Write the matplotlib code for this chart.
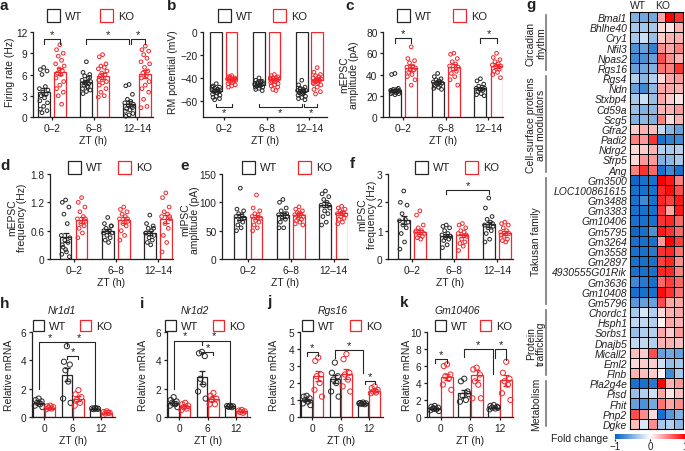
import numpy as np
import matplotlib
matplotlib.use("Agg")
import matplotlib.pyplot as plt
from matplotlib.patches import Rectangle
from matplotlib.colors import LinearSegmentedColormap, Normalize
from matplotlib.cm import ScalarMappable

plt.rcParams['font.family'] = ['Liberation Sans', 'DejaVu Sans']
plt.rcParams['axes.linewidth'] = 0.9
plt.rcParams['xtick.major.width'] = 0.9
plt.rcParams['ytick.major.width'] = 0.9
plt.rcParams['xtick.major.size'] = 2.5
plt.rcParams['ytick.major.size'] = 2.5
plt.rcParams['xtick.labelsize'] = 7.3
plt.rcParams['ytick.labelsize'] = 7.3
plt.rcParams['axes.labelsize'] = 7.5
TXT = '#231f20'
for key in ['text.color', 'axes.labelcolor', 'xtick.color', 'ytick.color', 'axes.edgecolor']:
    plt.rcParams[key] = TXT

WT_C = '#262626'
KO_C = '#f5262b'

zt_long = ['0\u20132', '6\u20138', '12\u201314']
zt_short = ['0', '6', '12']

# ---- a: firing rate (Hz)
a_wt = [[7.0, 6.7, 6.5, 6.0, 4.3, 4.0, 3.8, 3.5, 3.2, 3.0, 2.7, 2.3, 2.0, 1.5, 1.1, 0.9, 0.6],
        [7.8, 6.3, 6.0, 5.8, 5.5, 5.2, 5.0, 4.9, 4.7, 4.5, 4.3, 4.0, 3.8, 3.6, 3.3, 5.6, 4.8, 4.2],
        [4.6, 4.4, 3.2, 2.5, 2.2, 2.0, 1.8, 1.6, 1.5, 1.2, 1.0, 0.8, 0.5, 0.3, 0.1, 1.3]]
a_ko = [[10.2, 9.5, 9.0, 8.6, 8.0, 7.5, 7.2, 6.8, 6.5, 6.2, 6.0, 5.5, 5.0, 4.5, 4.0, 3.5, 3.0, 1.8],
        [8.8, 8.5, 7.5, 7.2, 7.0, 6.8, 6.5, 6.2, 6.0, 5.8, 5.5, 5.2, 5.0, 4.8, 4.5, 4.0, 3.5, 3.0, 2.8],
        [10.0, 9.5, 9.3, 8.8, 8.3, 7.8, 7.5, 7.0, 6.5, 6.2, 5.8, 5.5, 5.0, 4.5, 4.0, 3.5, 2.5, 1.5, 1.3]]
a_mean = [[3.6, 4.9, 1.9], [6.4, 5.8, 6.1]]
a_sem = [[0.5, 0.3, 0.4], [0.5, 0.4, 0.6]]

# ---- b: RM potential (mV)
b_wt = [[-45, -47, -48, -49, -50, -50, -51, -51, -52, -52, -53, -54, -55, -56, -57, -58, -59, -50, -48],
        [-40, -42, -43, -44, -44, -45, -45, -46, -46, -47, -47, -48, -48, -49, -50, -51, -45, -43, -46],
        [-42, -46, -48, -49, -50, -51, -51, -52, -52, -53, -54, -55, -56, -57, -58, -59, -50, -53]]
b_ko = [[-38, -39, -40, -40, -41, -41, -42, -42, -43, -43, -44, -45, -46, -47, -48, -41, -39],
        [-37, -38, -39, -40, -40, -41, -41, -42, -42, -43, -43, -44, -45, -46, -47, -48, -50, -51, -40],
        [-31, -35, -37, -38, -39, -40, -41, -42, -42, -43, -44, -45, -46, -48, -50, -52, -54, -41, -44]]
b_mean = [[-51, -46, -51], [-41, -41, -42]]
b_sem = [[1.0, 0.8, 1.0], [0.7, 0.8, 1.2]]

# ---- c: mEPSC amplitude (pA)
c_wt = [[41, 40, 27, 26, 26, 25, 25, 24, 24, 23, 23, 22, 22, 21, 25, 24],
        [41, 38, 36, 35, 34, 33, 32, 31, 30, 29, 28, 27, 26, 33],
        [36, 34, 31, 29, 28, 27, 27, 26, 25, 24, 22, 21, 20, 26]]
c_ko = [[66, 55, 53, 51, 48, 47, 46, 45, 44, 42, 40, 38, 35, 30],
        [60, 59, 55, 52, 50, 48, 47, 45, 43, 41, 38, 35, 30],
        [60, 56, 54, 52, 50, 49, 48, 47, 45, 43, 42, 40, 37]]
c_mean = [[25, 32.5, 27], [46, 47, 48]]
c_sem = [[1.2, 1.2, 1.2], [2.5, 2.5, 2.2]]

# ---- d: mEPSC frequency (Hz)
d_wt = [[1.25, 1.2, 1.1, 0.95, 0.75, 0.5, 0.45, 0.4, 0.35, 0.25, 0.15, 0.1, 0.05, 0.2, 0.3],
        [0.88, 0.75, 0.7, 0.65, 0.6, 0.55, 0.55, 0.5, 0.45, 0.4, 0.35, 0.6, 0.7],
        [0.93, 0.75, 0.7, 0.65, 0.6, 0.55, 0.5, 0.45, 0.4, 0.35, 0.3, 0.55, 0.65]]
d_ko = [[1.3, 1.2, 1.1, 1.0, 0.9, 0.85, 0.8, 0.75, 0.7, 0.65, 0.55, 0.45, 0.85],
        [1.1, 1.05, 1.0, 0.95, 0.9, 0.85, 0.8, 0.75, 0.7, 0.6, 0.5, 0.4, 0.85],
        [1.4, 1.3, 1.1, 1.0, 0.95, 0.9, 0.85, 0.75, 0.65, 0.5, 0.35, 0.15, 0.9]]
d_mean = [[0.46, 0.60, 0.55], [0.83, 0.82, 0.85]]
d_sem = [[0.1, 0.04, 0.05], [0.06, 0.06, 0.09]]

# ---- e: mIPSC amplitude (pA)
e_wt = [[125, 88, 85, 80, 78, 75, 72, 68, 65, 60, 55, 50, 72],
        [105, 100, 90, 85, 80, 78, 75, 72, 70, 65, 55, 55, 80],
        [120, 115, 110, 105, 100, 95, 90, 85, 80, 75, 65, 60, 95]]
e_ko = [[113, 90, 85, 80, 78, 75, 72, 68, 65, 60, 55, 50],
        [92, 88, 85, 82, 80, 78, 75, 72, 70, 68, 65, 62, 60, 80],
        [93, 90, 88, 85, 82, 80, 78, 75, 72, 70, 65, 62]]
e_mean = [[74, 77, 96], [74, 78, 81]]
e_sem = [[5, 4, 5], [4, 3, 3]]

# ---- f: mIPSC frequency (Hz)
f_wt = [[2.4, 2.0, 1.9, 1.6, 1.4, 1.35, 1.3, 1.2, 1.1, 0.9, 0.6, 0.35],
        [1.2, 1.15, 1.1, 1.0, 0.9, 0.85, 0.8, 0.75, 0.7, 0.65, 0.5, 0.4, 0.8],
        [2.15, 1.8, 1.5, 1.4, 1.3, 1.2, 1.15, 1.1, 1.0, 0.9, 0.7, 0.6, 1.25]]
f_ko = [[1.7, 1.55, 1.2, 1.1, 1.0, 0.95, 0.9, 0.85, 0.8, 0.75, 0.7, 1.0],
        [1.25, 1.2, 1.1, 1.0, 0.95, 0.9, 0.8, 0.7, 0.6, 0.55, 0.45, 0.3, 0.85],
        [1.3, 1.25, 1.2, 1.1, 1.0, 0.95, 0.9, 0.8, 0.7, 0.65, 0.6, 0.85]]
f_mean = [[1.37, 0.82, 1.22], [0.95, 0.83, 0.92]]
f_sem = [[0.15, 0.05, 0.1], [0.08, 0.07, 0.06]]

# ---- h: Nr1d1 relative mRNA
h_wt = [[1.3, 1.2, 1.1, 1.0, 0.9, 0.8, 0.7], [5.0, 3.9, 3.7, 3.3, 2.5, 1.3, 1.0], [0.62, 0.6, 0.58, 0.55, 0.6]]
h_ko = [[0.8, 0.75, 0.7, 0.65, 0.6, 0.55], [1.9, 1.6, 1.4, 1.2, 1.0, 0.8], [0.4, 0.35, 0.3, 0.25, 0.3]]
h_mean = [[1.0, 3.0, 0.6], [0.65, 1.3, 0.3]]
h_sem = [[0.1, 0.45, 0.03], [0.05, 0.15, 0.04]]

# ---- i: Nr1d2
i_wt = [[1.4, 1.2, 1.1, 1.0, 0.9, 0.8, 0.7], [4.6, 4.5, 4.3, 2.7, 2.3, 1.8, 1.3], [0.8, 0.78, 0.75, 0.72, 0.7]]
i_ko = [[1.0, 0.9, 0.8, 0.7, 0.6, 0.5], [1.7, 1.5, 1.3, 1.2, 0.9, 0.9], [0.5, 0.45, 0.4, 0.35, 0.3]]
i_mean = [[1.0, 2.8, 0.75], [0.75, 1.3, 0.4]]
i_sem = [[0.12, 0.45, 0.03], [0.1, 0.15, 0.05]]

# ---- j: Rgs16
j_wt = [[1.25, 1.2, 1.1, 1.0, 0.9, 0.8, 0.7], [3.2, 2.6, 2.4, 2.2, 2.0, 1.5, 1.2], [0.85, 0.82, 0.8, 0.78, 0.75, 0.8]]
j_ko = [[3.5, 3.3, 2.5, 2.4, 2.0, 1.6, 1.2], [3.7, 3.4, 2.6, 2.5, 2.2, 1.8, 1.5], [1.8, 1.7, 1.6, 1.5, 1.45, 1.4]]
j_mean = [[1.0, 2.25, 0.8], [2.4, 2.55, 1.55]]
j_sem = [[0.08, 0.25, 0.03], [0.3, 0.3, 0.08]]

# ---- k: Gm10406
k_wt = [[1.3, 1.2, 1.1, 1.0, 0.9, 0.8, 0.7, 1.0], [4.5, 4.2, 3.0, 2.5, 2.0, 1.8, 2.7], [1.4, 1.3, 1.2, 1.1, 1.0, 0.9, 1.1]]
k_ko = [[6.2, 6.0, 5.0, 4.8, 4.5, 3.8, 3.2], [5.8, 5.6, 5.0, 4.2, 3.8, 2.2, 2.2], [6.5, 5.2, 4.5, 4.2, 3.8, 2.8, 2.0]]
k_mean = [[1.0, 2.8, 1.1], [4.7, 4.9, 4.3]]
k_sem = [[0.1, 0.4, 0.08], [0.4, 0.6, 0.6]]

# ---- g: heatmap (fold change, 3 WT + 3 KO)
genes = ['Bmal1', 'Bhlhe40', 'Cry1', 'Nfil3', 'Npas2', 'Rgs16',
         'Rgs4', 'Ndn', 'Stxbp4', 'Cd59a', 'Scg5', 'Gfra2', 'Padi2', 'Ndrg2', 'Sfrp5', 'Ang',
         'Gm3500', 'LOC100861615', 'Gm3488', 'Gm3383', 'Gm10406', 'Gm5795', 'Gm3264', 'Gm3558',
         'Gm2897', '4930555G01Rik', 'Gm3636', 'Gm10408', 'Gm5796',
         'Chordc1', 'Hsph1', 'Sorbs1', 'Dnajb5', 'Micall2', 'Eml2', 'Flnb',
         'Pla2g4e', 'Pisd', 'Fhit', 'Pnp2', 'Dgke']
fold = [[-0.5, -0.55, -0.55, 0.35, 1.0, 0.8],
        [-0.35, -0.35, -0.35, 0.15, 0.1, 0.3],
        [-0.35, -0.2, -0.4, 0.2, 0.3, 0.3],
        [-0.7, -0.6, -0.8, 0.45, 0.35, 0.5],
        [-0.75, -0.7, -0.6, 0.7, 0.45, 0.3],
        [-0.6, -0.55, -0.5, 0.55, 0.5, 0.8],
        [-0.3, -0.45, -0.3, 0.15, 0.35, 0.4],
        [-0.6, -0.75, -0.45, 0.35, 0.35, 0.3],
        [-0.35, -0.2, -0.4, 0.35, 0.2, 0.1],
        [-0.4, -0.5, -0.45, 0.3, 0.3, 0.4],
        [-0.5, -0.45, -0.5, 0.5, 0.15, 0.3],
        [0.2, 0.3, 0.25, -0.25, -0.45, -0.6],
        [0.5, 0.4, 0.8, -0.9, -0.8, -0.75],
        [0.15, 0.2, 0.3, -0.3, -0.35, -0.3],
        [0.15, 0.4, 0.4, -0.5, -0.45, -0.35],
        [0.5, 0.8, 0.6, -0.9, -0.75, -0.9],
        [-0.95, -0.9, -0.9, 1.0, 0.9, 0.5],
        [-0.9, -0.9, -0.9, 0.85, 0.95, 0.7],
        [-0.9, -0.75, -0.9, 0.85, 0.75, 0.9],
        [-0.9, -0.9, -0.9, 0.8, 0.35, 0.9],
        [-0.9, -0.9, -0.9, 0.8, 0.85, 0.6],
        [-0.95, -0.9, -0.7, 0.9, 0.8, 0.6],
        [-0.9, -0.9, -0.9, 0.4, 1.0, 0.75],
        [-0.9, -0.9, -0.85, 0.8, 0.85, 0.55],
        [-0.9, -0.9, -0.9, 0.75, 0.85, 0.45],
        [-0.9, -0.9, -0.9, 0.85, 0.85, 0.5],
        [-0.75, -0.85, -0.9, 0.6, 0.75, 0.6],
        [-0.9, -0.9, -0.9, 0.95, 0.8, 0.55],
        [-0.65, -0.6, -0.6, 0.7, 0.35, 0.35],
        [-0.35, -0.15, -0.3, 0.15, 0.3, 0.35],
        [-0.25, -0.25, -0.3, 0.05, 0.35, 0.3],
        [-0.4, -0.3, -0.3, 0.35, 0.2, 0.4],
        [-0.25, -0.25, -0.3, 0.3, 0.3, 0.25],
        [0.25, 0.2, 0.7, -0.6, -0.55, -0.6],
        [0.15, 0.2, 0.2, -0.2, -0.4, -0.35],
        [0.3, 0.25, 0.2, 0.05, -0.75, -0.35],
        [-0.9, -0.9, -0.85, 1.0, 0.3, 0.4],
        [-0.4, -0.3, -0.2, 0.35, 0.1, 0.25],
        [-0.6, -0.7, -0.55, 0.55, 0.35, 0.45],
        [0.7, 0.45, 0.15, -0.9, -0.65, -0.5],
        [0.25, -0.15, 0.45, -0.35, -0.3, -0.45]]
groups = [('Circadian\nrhythm', 0, 6), ('Cell-surface proteins\nand modulators', 6, 16),
          ('Takusan family', 16, 29), ('Protein\ntrafficking', 29, 36), ('Metabolism', 36, 41)]

W, H = 685, 452
fig = plt.figure(figsize=(W / 100, H / 100), dpi=100)


def px_ax(l, t, r, b):
    return fig.add_axes([l / W, 1 - b / H, (r - l) / W, (b - t) / H])


def ftext(x, y, s, **kw):
    return fig.text(x / W, 1 - y / H, s, **kw)


def legend(x_wt, x_ko, y, sz=13, fs=8):
    for x, lab, c in [(x_wt, 'WT', WT_C), (x_ko, 'KO', KO_C)]:
        fig.patches.append(Rectangle((x / W, 1 - (y + sz) / H), sz / W, sz / H,
                                     transform=fig.transFigure, facecolor='white',
                                     edgecolor=c, lw=0.9))
        ftext(x + sz + 5, y + sz / 2, lab, fontsize=fs, va='center', ha='left')


JIT = np.array([0, -0.28, 0.28, -0.14, 0.14, -0.36, 0.36, -0.07, 0.21, -0.21, 0.07, -0.32, 0.32])


def bars(ax, wt, ko, means, sems, width, off, ms, lw=0.9):
    for g in range(3):
        for k, (pts, c, sgn) in enumerate([(wt, WT_C, -1), (ko, KO_C, 1)]):
            x = g + sgn * off
            ax.bar(x, means[k][g], width, facecolor='white', edgecolor=c, linewidth=lw, zorder=1)
            p = pts[g]
            ax.scatter(x + np.resize(JIT, len(p)) * width, p, s=ms, facecolors='none',
                       edgecolors=c, linewidths=0.7, zorder=2, clip_on=False)
            ax.errorbar(x, means[k][g], yerr=sems[k][g], color=c, capsize=2,
                        elinewidth=lw, capthick=lw, zorder=3)


def style(ax, xlim, ylim, yticks, ytl, xtl):
    ax.set_xlim(xlim)
    ax.set_ylim(ylim)
    ax.set_yticks(yticks)
    ax.set_yticklabels(ytl)
    ax.set_xticks([0, 1, 2])
    ax.set_xticklabels(xtl)
    ax.spines[['top', 'right']].set_visible(False)
    ax.tick_params(pad=1.5)
    ax.set_xlabel('ZT (h)', labelpad=2)


def bracket(ax, x1, x2, y, l1, l2, sx=None, sy=None, below=False, fs=8):
    ax.plot([x1, x1, x2, x2], [l1, y, y, l2], color=WT_C, lw=0.8, clip_on=False, zorder=4)
    sx = (x1 + x2) / 2 if sx is None else sx
    sy = y if sy is None else sy
    ax.text(sx, sy, '*', ha='center', va='top' if below else 'bottom', fontsize=fs)


# ---------------- row 1
W1, O1 = 0.28, 0.19
ax = px_ax(33, 33, 153, 118)
bars(ax, a_wt, a_ko, a_mean, a_sem, W1, O1, 7)
style(ax, (-0.44, 2.37), (0, 12), [0, 3, 6, 9, 12], ['0', '3', '6', '9', '12'], zt_long)
bracket(ax, -O1, O1, 11, 10.3, 10.3)
bracket(ax, 1 - O1, 2 - O1, 11, 10.3, 10.3)
bracket(ax, 2 - O1 + 0.05, 2 + O1, 11, 10.3, 10.3)
ftext(10, 72, 'Firing rate (Hz)', rotation=90, ha='center', va='center', fontsize=7.5)
legend(47, 100, 10)
ftext(0, 10, 'a', fontsize=11, fontweight='bold')

ax = px_ax(203, 33, 327, 118)
bars(ax, b_wt, b_ko, b_mean, b_sem, 0.27, 0.18, 7)
style(ax, (-0.49, 2.41), (-74, 0), [-60, -40, -20, 0], ['\u221260', '\u221240', '\u221220', '0'], zt_long)
bracket(ax, -0.18, 0.18, -65, -62.5, -62.5, below=True)
bracket(ax, 1 - 0.18, 2 - 0.18, -65, -62.5, -62.5, below=True)
bracket(ax, 2 - 0.18 + 0.05, 2 + 0.18, -65, -62.5, -62.5, below=True)
ftext(173, 72, 'RM potential (mV)', rotation=90, ha='center', va='center', fontsize=7.5)
legend(218, 273, 10)
ftext(167, 10, 'b', fontsize=11, fontweight='bold')

ax = px_ax(383, 33, 503, 118)
bars(ax, c_wt, c_ko, c_mean, c_sem, W1, O1, 7)
style(ax, (-0.47, 2.34), (0, 80), [0, 20, 40, 60, 80], ['0', '20', '40', '60', '80'], zt_long)
bracket(ax, -O1, O1, 74, 70, 70)
bracket(ax, 2 - O1, 2 + O1, 74, 70, 70)
ftext(349, 75, 'mEPSC\namplitude (pA)', rotation=90, ha='center', va='center', fontsize=7.5,
      linespacing=1.0)
legend(397, 453, 10)
ftext(345, 10, 'c', fontsize=11, fontweight='bold')

# ---------------- row 2
ax = px_ax(50, 175, 173, 260)
bars(ax, d_wt, d_ko, d_mean, d_sem, W1, O1, 7)
style(ax, (-0.56, 2.36), (0, 1.8), [0, 0.6, 1.2, 1.8], ['0', '0.6', '1.2', '1.8'], zt_long)
ftext(17, 218, 'mEPSC\nfrequency (Hz)', rotation=90, ha='center', va='center', fontsize=7.5,
      linespacing=1.0)
legend(68, 118, 162)
ftext(0, 170, 'd', fontsize=11, fontweight='bold')

ax = px_ax(222, 175, 348, 260)
bars(ax, e_wt, e_ko, e_mean, e_sem, W1, O1, 7)
style(ax, (-0.62, 2.34), (0, 150), [0, 50, 100, 150], ['0', '50', '100', '150'], zt_long)
ftext(190, 220, 'mIPSC\namplitude (pA)', rotation=90, ha='center', va='center', fontsize=7.5,
      linespacing=1.0)
legend(242, 298, 162)
ftext(180, 170, 'e', fontsize=11, fontweight='bold')

ax = px_ax(388, 175, 513, 260)
bars(ax, f_wt, f_ko, f_mean, f_sem, W1, O1, 7)
style(ax, (-0.56, 2.38), (0, 3), [0, 1, 2, 3], ['0', '1', '2', '3'], zt_long)
bracket(ax, 1 - O1, 2 - O1, 2.45, 2.3, 2.3)
ftext(367, 215, 'mIPSC\nfrequency (Hz)', rotation=90, ha='center', va='center', fontsize=7.5,
      linespacing=1.0)
legend(415, 465, 162)
ftext(350, 168, 'f', fontsize=11, fontweight='bold')

# ---------------- row 3
W3, O3 = 0.37, 0.205
ax = px_ax(32, 333, 115, 418)
bars(ax, h_wt, h_ko, h_mean, h_sem, W3, O3, 14)
style(ax, (-0.44, 2.5), (0, 6), [0, 2, 4, 6], ['0', '2', '4', '6'], zt_short)
ax.plot([-O3, -O3, 2 - O3, 2 - O3], [2.0, 5.27, 5.27, 0.8], color=WT_C, lw=0.8, clip_on=False)
ax.plot([1 - O3, 1 - O3], [5.27, 5.0], color=WT_C, lw=0.8)
ax.text(0.2, 5.27, '*', ha='center', va='bottom', fontsize=8)
ax.text(1.22, 5.27, '*', ha='center', va='bottom', fontsize=8)
bracket(ax, 1 - O3, 1 + O3, 4.33, 4.1, 4.1)
ftext(9, 375, 'Relative mRNA', rotation=90, ha='center', va='center', fontsize=7.5)
ftext(62, 314, 'Nr1d1', ha='center', fontsize=7.5, fontstyle='italic')
legend(33, 80, 321, sz=11)
ftext(0, 308, 'h', fontsize=11, fontweight='bold')

ax = px_ax(167, 333, 250, 418)
bars(ax, i_wt, i_ko, i_mean, i_sem, W3, O3, 14)
style(ax, (-0.44, 2.5), (0, 6), [0, 2, 4, 6], ['0', '2', '4', '6'], zt_short)
ax.plot([-O3, -O3, 2 - O3, 2 - O3], [2.0, 5.4, 5.4, 0.9], color=WT_C, lw=0.8, clip_on=False)
ax.plot([1 - O3, 1 - O3], [5.4, 5.1], color=WT_C, lw=0.8, clip_on=False)
ax.text(0.2, 5.4, '*', ha='center', va='bottom', fontsize=8)
ax.text(1.22, 5.4, '*', ha='center', va='bottom', fontsize=8)
bracket(ax, 1 - O3, 1 + O3, 4.6, 4.4, 4.4)
ftext(143, 375, 'Relative mRNA', rotation=90, ha='center', va='center', fontsize=7.5)
ftext(195, 314, 'Nr1d2', ha='center', fontsize=7.5, fontstyle='italic')
legend(165, 213, 321, sz=11)
ftext(140, 308, 'i', fontsize=11, fontweight='bold')

ax = px_ax(300, 333, 383, 418)
bars(ax, j_wt, j_ko, j_mean, j_sem, W3, O3, 14)
style(ax, (-0.44, 2.5), (0, 5), [0, 1, 2, 3, 4, 5], ['0', '1', '2', '3', '4', '5'], zt_short)
bracket(ax, -O3, O3, 3.84, 3.6, 3.6)
bracket(ax, 1 - O3, 2 - O3, 3.94, 3.5, 2.6)
bracket(ax, 2 - O3 + 0.05, 2 + O3, 2.14, 1.95, 1.95)
ftext(274, 375, 'Relative mRNA', rotation=90, ha='center', va='center', fontsize=7.5)
ftext(333, 314, 'Rgs16', ha='center', fontsize=7.5, fontstyle='italic')
legend(302, 350, 321, sz=11)
ftext(267, 306, 'j', fontsize=11, fontweight='bold')

ax = px_ax(427, 333, 513, 418)
bars(ax, k_wt, k_ko, k_mean, k_sem, 0.4, 0.21, 14)
style(ax, (-0.47, 2.44), (0, 10), [0, 2, 4, 6, 8, 10], ['0', '2', '4', '6', '8', '10'], zt_short)
bracket(ax, -0.21, 0.21, 6.82, 6.4, 6.4)
bracket(ax, 1 - 0.21, 2 - 0.25, 8.0, 7.06, 5.06)
bracket(ax, 2 - 0.17, 2 + 0.21, 8.0, 7.0, 6.7)
ftext(407, 375, 'Relative mRNA', rotation=90, ha='center', va='center', fontsize=7.5)
ftext(457, 314, 'Gm10406', ha='center', fontsize=7.5, fontstyle='italic')
legend(435, 480, 321, sz=11)
ftext(400, 307, 'k', fontsize=11, fontweight='bold')

# ---------------- g heatmap
cmap = LinearSegmentedColormap.from_list('fc', ['#0062c4', '#ffffff', '#ff0000'])
n = len(genes)
top, bot = 13, 430
ax = px_ax(630, top, 683, bot)
ax.pcolormesh(np.array(fold), cmap=cmap, vmin=-1, vmax=1, edgecolors='k', linewidth=0.6)
ax.set_ylim(n, 0)
ax.set_xlim(0, 6)
ax.set_yticks(np.arange(n) + 0.5)
ax.set_yticklabels(genes, fontstyle='italic', fontsize=7.5)
ax.set_xticks([])
ax.tick_params(length=0, pad=2)
for sp in ax.spines.values():
    sp.set_linewidth(0.8)
    sp.set_color('k')
ax.text(0.9, -0.15, 'WT', ha='center', va='bottom', fontsize=7.5)
ax.text(3.7, -0.15, 'KO', ha='center', va='bottom', fontsize=7.5)
rowh = (bot - top) / n
for lab, r0, r1 in groups:
    y0 = top + r0 * rowh + 3
    y1 = top + r1 * rowh - 3
    fig.add_artist(plt.Line2D([546 / W, 546 / W], [1 - y0 / H, 1 - y1 / H], color='#777777', lw=1.2))
    ftext(536, (y0 + y1) / 2, lab, rotation=90, ha='center', va='center', fontsize=7.5,
          linespacing=1.0, multialignment='center')
ftext(526, 9, 'g', fontsize=11, fontweight='bold')

cax = px_ax(615, 435, 685, 440)
cb = fig.colorbar(ScalarMappable(norm=Normalize(-1, 1), cmap=cmap), cax=cax,
                  orientation='horizontal', ticks=[-1, 0, 1])
cb.outline.set_visible(False)
cb.ax.set_xticklabels(['\u22121', '0', '1'])
cax.tick_params(length=1.5, labelsize=7, pad=0)
ftext(580, 439, 'Fold change', ha='center', va='center', fontsize=7.5)

fig.savefig('out.png', dpi=100)
